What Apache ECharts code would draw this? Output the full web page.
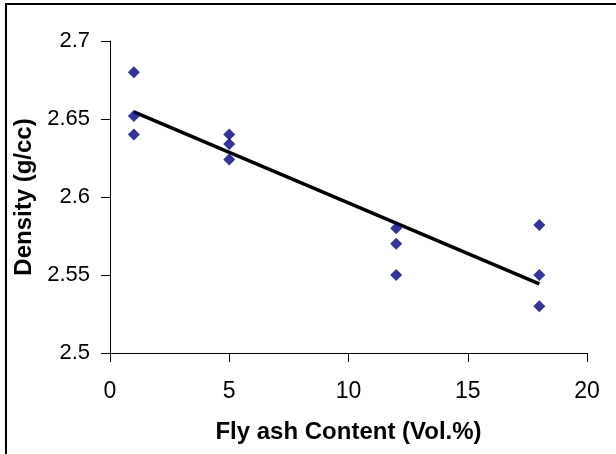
<!DOCTYPE html>
<html>
<head>
<meta charset="utf-8">
<script src="https://cdn.jsdelivr.net/npm/echarts@6/dist/echarts.min.js"></script>
<style>
    html, body { margin: 0; padding: 0; background: #fff; }
    #frame {
        position: absolute; left: 5px; top: 3px; width: 611px; height: 449px;
        border-left: 2px solid #000; border-top: 2px solid #000; border-bottom: 1px solid #999;
    }
    #chart { position: absolute; left: 0; top: 0; width: 616px; height: 454px; }
</style>
</head>
<body>
<div id="frame"></div>
<div id="chart"></div>
<script>
// fly ash content (vol.%) and measured density (g/cc)
var flyAsh = [1, 1, 1, 5, 5, 5, 12, 12, 12, 18, 18, 18];
var density = [2.68, 2.652, 2.64, 2.64, 2.634, 2.624, 2.58, 2.57, 2.55, 2.582, 2.55, 2.53];
var xTicks = [0, 5, 10, 15, 20];
var yTicks = [2.5, 2.55, 2.6, 2.65, 2.7];

// linear trend line (least squares) over the measured range
function trendLine(xs, ys) {
    var n = xs.length, mx = 0, my = 0;
    for (var i = 0; i < n; i++) { mx += xs[i]; my += ys[i]; }
    mx /= n; my /= n;
    var sxy = 0, sxx = 0;
    for (var j = 0; j < n; j++) {
        sxy += (xs[j] - mx) * (ys[j] - my);
        sxx += (xs[j] - mx) * (xs[j] - mx);
    }
    var slope = sxy / sxx;
    var x0 = Math.min.apply(null, xs), x1 = Math.max.apply(null, xs);
    return [[x0, my + slope * (x0 - mx)], [x1, my + slope * (x1 - mx)]];
}

var points = [];
for (var i = 0; i < flyAsh.length; i++) {
    points.push([flyAsh[i], density[i]]);
}

var font = 'Liberation Sans, Arial, sans-serif';
var chart = echarts.init(document.getElementById('chart'));
var option = {
    animation: false,
    grid: { left: 110, right: 29, top: 41, bottom: 101 },
    xAxis: {
        type: 'value',
        min: xTicks[0],
        max: xTicks[xTicks.length - 1],
        interval: 5,
        name: 'Fly ash Content (Vol.%)',
        nameLocation: 'middle',
        nameGap: 67,
        nameTextStyle: { fontFamily: font, fontSize: 24, fontWeight: 'bold', color: '#000' },
        axisLine: { lineStyle: { color: '#000', width: 1 } },
        axisTick: { length: 9, lineStyle: { color: '#000' } },
        axisLabel: { fontFamily: font, fontSize: 23, color: '#000', margin: 27 },
        splitLine: { show: false }
    },
    yAxis: {
        type: 'value',
        min: yTicks[0],
        max: yTicks[yTicks.length - 1],
        interval: 0.05,
        name: 'Density (g/cc)',
        nameLocation: 'middle',
        nameGap: 72,
        nameTextStyle: { fontFamily: font, fontSize: 24, fontWeight: 'bold', color: '#000' },
        axisLine: { show: true, lineStyle: { color: '#000', width: 1 } },
        axisTick: { show: true, length: 9, lineStyle: { color: '#000' } },
        axisLabel: { fontFamily: font, fontSize: 22, color: '#000', margin: 20 },
        splitLine: { show: false }
    },
    series: [
        {
            type: 'line',
            data: trendLine(flyAsh, density),
            symbol: 'none',
            lineStyle: { color: '#000', width: 3.5 },
            z: 2
        },
        {
            type: 'scatter',
            data: points,
            symbol: 'diamond',
            symbolSize: [12, 12],
            itemStyle: { color: '#000080' },
            z: 3
        }
    ]
};
chart.setOption(option, true);
</script>
</body>
</html>
